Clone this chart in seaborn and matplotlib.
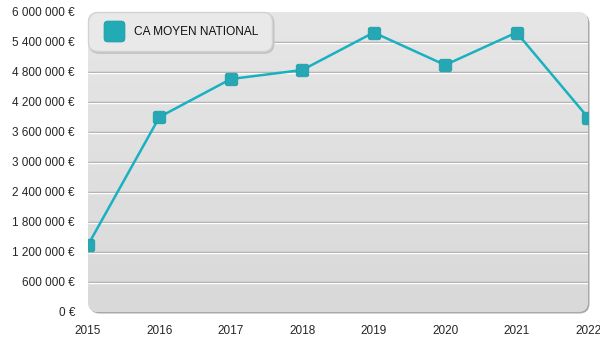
import numpy as np
import pandas as pd
import matplotlib
matplotlib.use("Agg")
import matplotlib.pyplot as plt
import matplotlib.patches as mpatches
import matplotlib.transforms as mtransforms
from matplotlib.lines import Line2D
import seaborn as sns

years = [2015, 2016, 2017, 2018, 2019, 2020, 2021, 2022]
ca_moyen = [1340000, 3900000, 4660000, 4840000, 5590000, 4940000, 5590000, 3890000]
series_name = "CA MOYEN NATIONAL"
y_ticks = [0, 600000, 1200000, 1800000, 2400000, 3000000, 3600000, 4200000, 4800000, 5400000, 6000000]

def fmt_eur(v):
    return "{:,}".format(int(v)).replace(",", " ") + " €"

sns.set_theme(style="white")
plt.rcParams['font.family'] = ['Liberation Sans', 'DejaVu Sans']

df = pd.DataFrame({"year": years, "value": ca_moyen, "serie": series_name})

fig = plt.figure(figsize=(6, 3.5), dpi=100)
L, B, W, H = 88, 38, 500, 300
ax = fig.add_axes([L / 600, B / 350, W / 600, H / 350])
ax.set_facecolor("none")
for s in ax.spines.values():
    s.set_visible(False)

ident = mtransforms.IdentityTransform()
# shadow
shadow = mpatches.FancyBboxPatch((L + 1.5, B - 1.5), W, H,
                                 boxstyle="round,pad=0,rounding_size=10",
                                 transform=ident, facecolor="#a9a9a9",
                                 edgecolor="none", zorder=0, clip_on=False)
ax.add_artist(shadow)
bg = mpatches.FancyBboxPatch((L, B), W, H, boxstyle="round,pad=0,rounding_size=10",
                             transform=ident, facecolor="#dedede",
                             edgecolor="none", zorder=0.1, clip_on=False)
ax.add_artist(bg)

xmin, xmax = years[0], years[-1]
ymin, ymax = y_ticks[0], y_ticks[-1]
grad = np.linspace(0, 1, 256).reshape(-1, 1)
cmap = matplotlib.colors.LinearSegmentedColormap.from_list("bg", ["#e6e6e6", "#d9d9d9"])
im = ax.imshow(grad, extent=(xmin, xmax, ymin, ymax), origin="upper", aspect="auto",
               cmap=cmap, zorder=0.2, interpolation="bilinear")
im.set_clip_path(bg)

inner = y_ticks[1:-1]
ax.hlines(inner, xmin, xmax, colors="#a3a3a3", linewidth=1.0, zorder=1)
off = mtransforms.offset_copy(ax.transData, fig=fig, y=-1.2, units="dots")
ax.hlines(inner, xmin, xmax, colors="#ffffff", linewidth=1.0, zorder=1, transform=off)

# rounded square marker
rs = mpatches.FancyBboxPatch((-0.5, -0.5), 1, 1, boxstyle="round,pad=0,rounding_size=0.18")
marker_path = rs.get_path()

sns.lineplot(data=df, x="year", y="value", ax=ax, color="#19b1c0", linewidth=1.8,
             marker=marker_path, markersize=9, markerfacecolor="#26a8b4",
             markeredgecolor="#1f9ca8", markeredgewidth=0.6, legend=False, zorder=3)

ax.set_xlim(xmin, xmax)
ax.set_ylim(ymin, ymax)
ax.set_xticks(years)
ax.set_xticklabels([str(y) for y in years], fontsize=8.5)
ax.set_yticks(y_ticks)
ax.set_yticklabels([fmt_eur(v) for v in y_ticks], fontsize=8.5)
ax.tick_params(axis="y", length=0, pad=9.4)
ax.tick_params(axis="x", length=0, pad=9.5)
ax.set_xlabel("")
ax.set_ylabel("")

handle = Line2D([], [], linestyle="none", marker=marker_path, markersize=15,
                markerfacecolor="#22aab5", markeredgecolor="#1f9ca8", markeredgewidth=0.6)
leg = ax.legend([handle], [series_name], loc="upper left", bbox_to_anchor=(0, 1),
                borderaxespad=0, frameon=True, fancybox=True,
                shadow={"color": "#c2c2c2", "alpha": 1, "ox": 1.2, "oy": -1.2},
                fontsize=8.6, handlelength=2.0, handletextpad=0.7,
                borderpad=1.15, labelcolor="#111111")
fr = leg.get_frame()
fr.set_facecolor("#e9e9e9")
fr.set_edgecolor("#d2d2d2")
fr.set_alpha(1)
fr.set_boxstyle("round,pad=0,rounding_size=0.8")
leg.set_zorder(5)

fig.savefig("out.png", dpi=100)
